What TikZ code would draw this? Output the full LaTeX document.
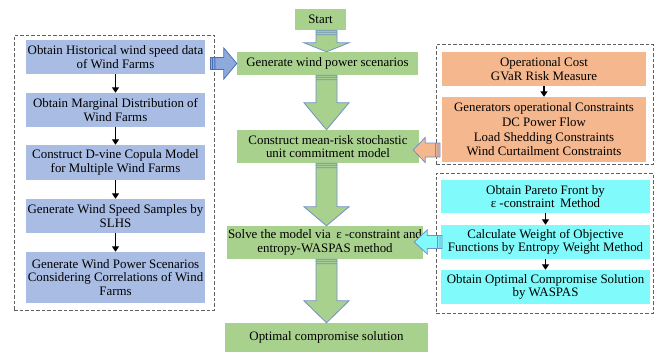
\documentclass[tikz,border=0pt]{standalone}
\usepackage{fontspec}
\setmainfont{Liberation Serif}
\usetikzlibrary{calc,arrows.meta}
\definecolor{gfill}{HTML}{A9D18E}
\definecolor{bfill}{HTML}{A8BCE4}
\definecolor{ofill}{HTML}{F5B78E}
\definecolor{cfill}{HTML}{80FAFA}
\definecolor{aline}{HTML}{7090C8}
\definecolor{barrowfill}{HTML}{8EA9DB}
\definecolor{barrowline}{HTML}{4A6FB5}
\definecolor{dashgray}{HTML}{606060}
\tikzset{
  box/.style={draw=none, inner sep=0pt, align=center, font=\fontsize{12.9}{13.4}\selectfont},
  gbox/.style={box, fill=gfill},
  bbox/.style={box, fill=bfill, minimum width=179pt},
  obox/.style={box, fill=ofill, minimum width=204pt, font=\fontsize{12.9}{14.6}\selectfont},
  cbox/.style={box, fill=cfill, minimum width=209pt},
  grp/.style={draw=dashgray, dash pattern=on 3.5pt off 2pt, line width=0.9pt, inner sep=0pt},
  sarrow/.style={-{Triangle[length=5.5pt,width=7pt]}, line width=1.6pt, black},
  garrow/.style={fill=gfill, draw=aline, line width=0.8pt, line join=miter},
  barrow/.style={fill=barrowfill, draw=barrowline, line width=0.8pt},
  oarrow/.style={fill=ofill, draw=aline, line width=0.8pt},
  carrow/.style={fill=cfill, draw=aline, line width=0.8pt},
}
% vertical block arrow: #1 from node, #2 to node, #3 head length
\newcommand{\bigdown}[3]{%
  \draw[garrow] let \p1=(#1.south), \p2=(#2.north), \p3=(ax) in
    (\x3-10.5pt,\y1) -- (\x3-10.5pt,\y2+#3pt) -- (\x3-22.5pt,\y2+#3pt) -- (\x3,\y2)
    -- (\x3+22.5pt,\y2+#3pt) -- (\x3+10.5pt,\y2+#3pt) -- (\x3+10.5pt,\y1) -- cycle
    (\x3-10.5pt,\y1-2pt) -- (\x3+10.5pt,\y1-2pt)
    (\x3-10.5pt,\y1-4.5pt) -- (\x3+10.5pt,\y1-4.5pt);}
% horizontal block arrow: #1 style, #2 tail, #3 tip, #4 shaft half, #5 head half, #6 signed head length, #7 signed tail stripe step
\newcommand{\sidearrow}[7]{%
  \draw[#1] let \p1=(#2), \p2=(#3) in
    ({\x1},{\y1+#4pt}) -- ({\x2-#6pt},{\y1+#4pt}) -- ({\x2-#6pt},{\y1+#5pt}) -- ({\x2},{\y1})
    -- ({\x2-#6pt},{\y1-#5pt}) -- ({\x2-#6pt},{\y1-#4pt}) -- ({\x1},{\y1-#4pt}) -- cycle
    ({\x1+#7pt},{\y1+#4pt}) -- ({\x1+#7pt},{\y1-#4pt})
    ({\x1+2.2*#7pt},{\y1+#4pt}) -- ({\x1+2.2*#7pt},{\y1-#4pt});}
\begin{document}
\begin{tikzpicture}[x=1pt,y=-1pt]
\useasboundingbox[fill=white] (0,0) rectangle (656,356);
\coordinate (ax) at (326.5,0);
% dashed groups
\node[grp, minimum width=200pt, minimum height=275pt] (L) at (114,172.5) {};
\node[grp, minimum width=217pt, minimum height=120pt] (R1) at (544.5,104) {};
\node[grp, minimum width=217pt, minimum height=140pt] (R2) at (544.5,243) {};
% left column
\node[bbox, minimum height=34pt] (b1) at (115.5,57) {Obtain Historical wind speed data\\of Wind Farms};
\node[bbox, minimum height=34pt] (b2) at (115.5,110) {Obtain Marginal Distribution of\\Wind Farms};
\node[bbox, minimum height=35pt] (b3) at (115.5,162.5) {Construct D-vine Copula Model\\for Multiple Wind Farms};
\node[bbox, minimum height=34pt] (b4) at (115.5,216) {Generate Wind Speed Samples by\\SLHS};
\node[bbox, minimum height=51pt] (b5) at (115.5,277.5) {Generate Wind Power Scenarios\\Considering Correlations of Wind\\Farms};
\draw[sarrow] (b1) -- (b2);
\draw[sarrow] (b2) -- (b3);
\draw[sarrow] (b3) -- (b4);
\draw[sarrow] (b4) -- (b5);
% centre column
\node[gbox, minimum width=51pt, minimum height=21pt] (st) at (320.5,19.5) {Start};
\node[gbox, minimum width=181pt, minimum height=23pt] (gen) at (327.5,63.5) {Generate wind power scenarios};
\node[gbox, minimum width=182pt, minimum height=33pt] (con) at (328,146.5) {Construct mean-risk stochastic\\unit commitment model};
\node[gbox, minimum width=196pt, minimum height=33pt] (sol) at (325,242.5) {Solve the model via \,ε -constraint and\\entropy-WASPAS method};
\node[gbox, minimum width=203pt, minimum height=29pt] (opt) at (326.5,337.5) {Optimal compromise solution};
\bigdown{st}{gen}{9}
\bigdown{gen}{con}{27}
\bigdown{con}{sol}{19}
\bigdown{sol}{opt}{22}
% right column, orange
\node[obox, minimum height=34pt] (o1) at (544,69) {Operational Cost\\GVaR Risk Measure};
\node[obox, minimum height=65pt] (o2) at (544,129.5) {Generators operational Constraints\\DC Power Flow\\Load Shedding Constraints\\Wind Curtailment Constraints};
\draw[sarrow] (o1) -- (o2);
% right column, cyan
\node[cbox, minimum height=33pt] (c1) at (545.5,196.5) {Obtain Pareto Front by\\ε -constraint \,Method};
\node[cbox, minimum height=34pt] (c2) at (545.5,242) {Calculate Weight of Objective\\Functions by Entropy Weight Method};
\node[cbox, minimum height=34pt] (c3) at (545.5,287) {Obtain Optimal Compromise Solution\\by WASPAS};
\draw[sarrow] (c1) -- (c2);
\draw[sarrow] (c2) -- (c3);
% side arrows
\coordinate (bt) at ($(L.east)+(-4,0)$);
\coordinate (btail) at (bt |- gen.west);
\sidearrow{barrow}{btail}{gen.west}{6}{15.5}{13}{2}
\coordinate (otail) at (440,150);
\coordinate (otip) at ($(con.east)+(-6,3.5)$);
\sidearrow{oarrow}{otail}{otip}{7}{12.5}{-12}{-2}
\coordinate (ctail) at (442,242);
\coordinate (ctip) at ($(sol.east)+(-9,-0.5)$);
\sidearrow{carrow}{ctail}{ctip}{6.5}{12}{-13}{-2}
\end{tikzpicture}
\end{document}
